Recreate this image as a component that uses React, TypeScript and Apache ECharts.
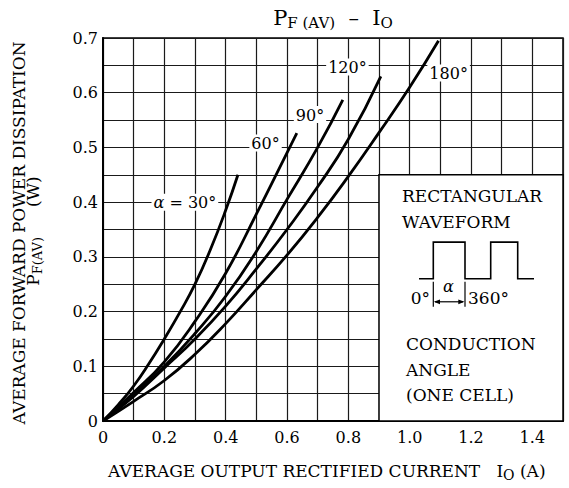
import React, { useEffect, useRef } from 'react';
import * as echarts from 'echarts';

const SERIF = '"DejaVu Serif", "Liberation Serif", serif';

// Curve data (Io in A, PF(AV) in W)
const io30 = [0, 0.05, 0.1, 0.15, 0.2, 0.25, 0.3, 0.35, 0.4, 0.44];
const pf30 = [0, 0.03, 0.064, 0.105, 0.15, 0.198, 0.25, 0.313, 0.385, 0.45];

const io60 = [0, 0.1, 0.2, 0.3, 0.4, 0.5, 0.6, 0.632];
const pf60 = [0, 0.052, 0.108, 0.182, 0.27, 0.378, 0.49, 0.526];

const io90 = [0, 0.1, 0.2, 0.3, 0.4, 0.5, 0.6, 0.7, 0.782];
const pf90 = [0, 0.048, 0.1, 0.16, 0.228, 0.31, 0.405, 0.5, 0.587];

const io120 = [0, 0.1, 0.2, 0.3, 0.4, 0.5, 0.6, 0.7, 0.8, 0.906];
const pf120 = [0, 0.045, 0.097, 0.15, 0.21, 0.278, 0.35, 0.428, 0.515, 0.63];

const io180 = [0, 0.1, 0.2, 0.3, 0.4, 0.5, 0.6, 0.7, 0.8, 0.9, 1.0, 1.094];
const pf180 = [0, 0.036, 0.074, 0.122, 0.178, 0.24, 0.303, 0.372, 0.447, 0.527, 0.61, 0.695];

const curveNames = ['30°', '60°', '90°', '120°', '180°'];

// Curve labels (text + anchor in data coords)
const curveLabelText = ['{a|α} = 30°', '60°', '90°', '120°', '180°'];
const curveLabelX = [0.267, 0.53, 0.675, 0.797, 1.127];
const curveLabelY = [0.4, 0.508, 0.56, 0.647, 0.636];

// Axes
const xMin = 0, xMax = 1.5, xStep = 0.1;
const yMin = 0, yMax = 0.7, yStep = 0.05;

// Inset box range in data coords
const boxX = [0.9, 1.5];
const boxY = [0, 0.45];
const insetTop = ['RECTANGULAR', 'WAVEFORM'];
const insetBottom = ['CONDUCTION', 'ANGLE', '(ONE CELL)'];

export default function App() {
  const ref = useRef<HTMLDivElement>(null);

  useEffect(() => {
    const chart = echarts.init(ref.current!, null, { renderer: 'svg' });
    const curves = [
      [io30, pf30],
      [io60, pf60],
      [io90, pf90],
      [io120, pf120],
      [io180, pf180],
    ];

    const lineSeries: any[] = curves.map(([xs, ys], i) => ({
      type: 'line',
      name: curveNames[i],
      data: xs.map((x, j) => [x, ys[j]]),
      smooth: 0.5,
      showSymbol: false,
      symbol: 'none',
      lineStyle: { color: '#000', width: 2.8 },
      z: 3,
    }));

    lineSeries[4].markArea = {
      silent: true,
      itemStyle: { color: '#fff', borderColor: '#000', borderWidth: 1.5 },
      data: [[{ coord: [boxX[0], boxY[1]] }, { coord: [boxX[1], boxY[0]] }]],
    };

    const labelSeries = {
      type: 'scatter',
      symbolSize: 1,
      itemStyle: { color: 'rgba(0,0,0,0)', opacity: 1 },
      z: 6,
      data: curveLabelText.map((t, i) => ({
        value: [curveLabelX[i], curveLabelY[i]],
        label: { formatter: t },
      })),
      label: {
        show: true,
        position: 'inside',
        color: '#000',
        opacity: 1,
        fontFamily: SERIF,
        fontSize: 16,
        backgroundColor: '#fff',
        padding: [1, 2, 0, 2],
        rich: {
          a: { fontFamily: SERIF, fontSize: 16, fontStyle: 'italic', color: '#000' },
        },
      },
    };

    chart.setOption({
      animation: false,
      backgroundColor: '#fff',
      grid: {
        left: 103,
        top: 38,
        width: 460,
        height: 383,
        show: true,
        borderColor: '#000',
        borderWidth: 1.5,
        backgroundColor: 'transparent',
      },
      xAxis: {
        type: 'value',
        min: xMin,
        max: xMax,
        interval: xStep,
        axisLine: { show: true, onZero: false, lineStyle: { color: '#000', width: 2 } },
        axisTick: { show: false },
        splitLine: { show: true, lineStyle: { color: '#1a1a1a', width: 1.2 } },
        axisLabel: {
          color: '#000',
          fontFamily: SERIF,
          fontSize: 16,
          margin: 8,
          formatter: (v: number) => {
            const k = Math.round(v * 10);
            if (k % 2 !== 0) return '';
            return k === 0 ? '0' : (k / 10).toFixed(1);
          },
        },
      },
      yAxis: {
        type: 'value',
        min: yMin,
        max: yMax,
        interval: yStep,
        axisLine: { show: true, onZero: false, lineStyle: { color: '#000', width: 2 } },
        axisTick: { show: false },
        splitLine: { show: true, lineStyle: { color: '#1a1a1a', width: 1.2 } },
        axisLabel: {
          color: '#000',
          fontFamily: SERIF,
          fontSize: 16,
          margin: 5,
          formatter: (v: number) => {
            const k = Math.round(v * 100);
            if (k % 10 !== 0) return '';
            return k === 0 ? '0' : (k / 100).toFixed(1);
          },
        },
      },
      series: [...lineSeries, labelSeries],
    });

    const [bx, by] = chart.convertToPixel({ xAxisIndex: 0, yAxisIndex: 0 }, [boxX[0], boxY[1]]) as number[];

    const txt = (x: number, y: number, text: string, size: number, align = 'left', extra: any = {}) => ({
      type: 'text',
      x,
      y,
      z: 100,
      style: {
        text,
        fill: '#000',
        font: `${size}px ${SERIF}`,
        align,
        textAlign: align,
        verticalAlign: 'middle',
        textVerticalAlign: 'middle',
        ...extra,
      },
    });

    const wave = [
      [40, 104], [54.3, 104], [54.3, 67.3], [86, 67.3], [86, 104],
      [111.7, 104], [111.7, 67.3], [138.7, 67.3], [138.7, 104], [155, 104],
    ];

    chart.setOption({
      graphic: [
        // Title
        {
          type: 'text',
          x: 333,
          y: 18,
          z: 100,
          style: {
            text: '{m|P}{s|F (AV)}{m|  –  I}{s|O}',
            align: 'center',
            textAlign: 'center',
            verticalAlign: 'middle',
            textVerticalAlign: 'middle',
            fill: '#000',
            rich: {
              m: { fontFamily: SERIF, fontSize: 21, fill: '#000', color: '#000' },
              s: { fontFamily: SERIF, fontSize: 15, fill: '#000', color: '#000', padding: [9, 0, 0, 0] },
            },
          },
        },
        // Y axis title line 1
        {
          type: 'text',
          x: 19,
          y: 233,
          rotation: Math.PI / 2,
          z: 100,
          style: {
            text: 'AVERAGE FORWARD POWER DISSIPATION',
            font: `17px ${SERIF}`,
            fill: '#000',
            align: 'center',
            textAlign: 'center',
            verticalAlign: 'middle',
            textVerticalAlign: 'middle',
          },
        },
        // Y axis title line 2
        {
          type: 'text',
          x: 33,
          y: 231,
          rotation: Math.PI / 2,
          z: 100,
          style: {
            text: '{m|P}{s|F(AV)}{w|(W)}',
            align: 'center',
            textAlign: 'center',
            verticalAlign: 'middle',
            textVerticalAlign: 'middle',
            fill: '#000',
            rich: {
              m: { fontFamily: SERIF, fontSize: 17, fill: '#000', color: '#000' },
              s: { fontFamily: SERIF, fontSize: 13, fill: '#000', color: '#000', padding: [8, 0, 0, 0] },
              w: { fontFamily: SERIF, fontSize: 17, fill: '#000', color: '#000', padding: [0, 0, 0, 30] },
            },
          },
        },
        // X axis title
        {
          type: 'text',
          x: 108,
          y: 471,
          z: 100,
          style: {
            text: '{m|AVERAGE OUTPUT RECTIFIED CURRENT   I}{s|O}{m| (A)}',
            align: 'left',
            textAlign: 'left',
            verticalAlign: 'middle',
            textVerticalAlign: 'middle',
            fill: '#000',
            rich: {
              m: { fontFamily: SERIF, fontSize: 17, fill: '#000', color: '#000' },
              s: { fontFamily: SERIF, fontSize: 14, fill: '#000', color: '#000', padding: [8, 0, 0, 0] },
            },
          },
        },
        // Inset content
        {
          type: 'group',
          x: bx,
          y: by,
          z: 100,
          children: [
            txt(23, 21, insetTop[0], 17),
            txt(23, 47, insetTop[1], 17),
            {
              type: 'polyline',
              z: 100,
              shape: { points: wave },
              style: { stroke: '#000', lineWidth: 1.6, fill: 'none' },
            },
            { type: 'line', z: 100, shape: { x1: 54.3, y1: 107, x2: 54.3, y2: 132 }, style: { stroke: '#000', lineWidth: 1.2 } },
            { type: 'line', z: 100, shape: { x1: 86, y1: 107, x2: 86, y2: 132 }, style: { stroke: '#000', lineWidth: 1.2 } },
            { type: 'line', z: 100, shape: { x1: 56, y1: 127, x2: 84, y2: 127 }, style: { stroke: '#000', lineWidth: 1.2 } },
            { type: 'polygon', z: 100, shape: { points: [[54.8, 127], [61, 124.6], [61, 129.4]] }, style: { fill: '#000' } },
            { type: 'polygon', z: 100, shape: { points: [[85.5, 127], [79.3, 124.6], [79.3, 129.4]] }, style: { fill: '#000' } },
            txt(69.5, 112, 'α', 16, 'center', { font: `italic 16px ${SERIF}` }),
            txt(51, 123, '0°', 17, 'right'),
            txt(89, 123, '360°', 17, 'left'),
            txt(27, 169, insetBottom[0], 17),
            txt(27, 195, insetBottom[1], 17),
            txt(27, 220, insetBottom[2], 17),
          ],
        },
      ],
    });

    return () => chart.dispose();
  }, []);

  return (
    <div
      ref={ref}
      style={{ position: 'absolute', left: 0, top: 0, width: 569, height: 488, background: '#fff' }}
    />
  );
}
